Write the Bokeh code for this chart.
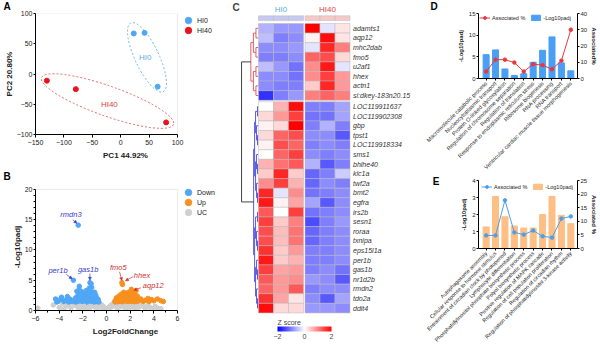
import numpy as np
from math import pi
from bokeh.plotting import figure
from bokeh.layouts import row, column
from bokeh.models import (Range1d, LinearAxis, FixedTicker, Legend, LegendItem, Label,
                          ColumnDataSource, LinearColorMapper, ColorBar, Arrow, NormalHead, BoxAnnotation)
from bokeh.embed import file_html
from bokeh.resources import INLINE
from bokeh.core.properties import value

FONT = "Liberation Sans"

# ---------------- Panel A data (PCA) ----------------
pca_hi0_x = [23, 42, 65]
pca_hi0_y = [67, 68, -21]
pca_hi40_x = [-130, -79, 80]
pca_hi40_y = [-11, -25, -80]

# ---------------- Panel B data (volcano) ----------------
down_pts = [(-2.39, 14.1), (-2.8, 5.0), (-1.4, 4.6), (-1.3, 4.4), (-1.45, 3.7), (-1.25, 3.8), (-2.3, 4.0),
            (-4.3, 1.9), (-4.1, 1.5), (-3.8, 2.2), (-3.5, 1.7), (-3.3, 2.3), (-3.0, 1.6), (-4.2, 1.4), (-3.9, 1.8),
            (-3.6, 1.5), (-3.1, 1.9), (-2.6, 2.1), (-2.5, 3.2), (-2.4, 2.6), (-2.3, 3.4), (-2.2, 2.8), (-2.1, 3.1),
            (-2.0, 2.4), (-1.9, 3.0), (-1.8, 2.7), (-1.7, 3.3), (-1.6, 2.5), (-1.5, 2.9), (-1.4, 2.6), (-1.3, 3.1),
            (-1.2, 2.3), (-1.1, 2.8), (-1.0, 2.2), (-0.9, 2.5), (-0.8, 2.0), (-0.7, 1.8), (-2.55, 1.7), (-2.35, 2.0),
            (-2.15, 1.9), (-1.95, 1.8), (-1.75, 2.1), (-1.55, 1.9), (-1.35, 2.0), (-1.15, 1.7), (-0.95, 1.6),
            (-0.75, 1.5), (-2.45, 1.5), (-2.25, 1.6), (-2.05, 1.5), (-1.85, 1.7), (-1.65, 1.4), (-1.45, 1.6),
            (-1.25, 1.5), (-1.05, 1.4), (-0.85, 1.5), (-0.65, 1.4), (-2.0, 2.3), (-1.8, 2.4), (-1.6, 2.2),
            (-2.2, 2.1), (-1.7, 1.8), (-1.9, 1.6), (-1.1, 2.6), (-0.9, 1.9), (-2.6, 1.4), (-1.0, 3.0), (-3.2, 1.4),
            (-2.9, 1.5), (-2.7, 1.8)]
up_pts = [(1.3, 4.6), (1.35, 4.3), (2.1, 3.5), (2.5, 3.3), (2.3, 3.1), (0.7, 1.5), (0.8, 1.8), (0.9, 1.6),
          (1.0, 2.0), (1.1, 1.7), (1.2, 2.3), (1.3, 1.9), (1.4, 2.6), (1.5, 2.1), (1.6, 2.8), (1.7, 2.2),
          (1.8, 2.5), (1.9, 1.9), (2.0, 2.7), (2.1, 2.3), (2.2, 2.9), (2.3, 2.0), (2.4, 2.6), (2.5, 1.8),
          (2.6, 2.4), (2.7, 1.6), (0.75, 1.4), (0.95, 1.45), (1.15, 1.5), (1.35, 1.45), (1.55, 1.6), (1.75, 1.5),
          (1.95, 1.55), (2.15, 1.5), (2.35, 1.45), (2.55, 1.5), (0.85, 2.1), (1.05, 2.4), (1.25, 2.7), (1.45, 3.0),
          (1.65, 2.4), (1.85, 3.0), (2.05, 2.0), (2.25, 2.5), (2.45, 2.2), (1.6, 1.8), (1.2, 1.6), (2.0, 1.7),
          (3.3, 1.7), (3.5, 2.0), (3.8, 1.8), (4.0, 1.6), (4.3, 1.9), (4.6, 1.6), (4.8, 1.5), (3.1, 1.5),
          (2.9, 1.9), (3.6, 1.5)]
uc_pts = [(-5.8, 0.4), (-4.5, 0.9), (-4.0, 0.5), (-3.7, 1.1), (-3.4, 0.7), (-3.2, 1.0), (-3.0, 0.4), (-2.8, 1.2),
          (-2.6, 0.8), (-2.5, 1.1), (-2.4, 0.5), (-2.2, 1.2), (-2.1, 0.9), (-2.0, 0.6), (-1.9, 1.2), (-1.8, 1.0),
          (-1.7, 0.7), (-1.6, 1.2), (-1.5, 0.9), (-1.4, 0.5), (-1.3, 1.1), (-1.2, 0.8), (-1.1, 1.2), (-1.0, 0.6),
          (-0.9, 1.0), (-0.8, 0.8), (-0.7, 1.2), (-0.6, 0.9), (-0.5, 0.7), (-0.45, 1.0), (-0.4, 0.5), (-0.35, 0.8),
          (-0.3, 0.4), (-0.25, 0.6), (-0.2, 0.3), (-0.15, 0.4), (-0.1, 0.15), (-0.05, 0.05), (0.05, 0.05),
          (0.1, 0.15), (0.15, 0.35), (0.2, 0.3), (0.25, 0.6), (0.3, 0.45), (0.35, 0.8), (0.4, 0.6), (0.45, 1.0),
          (0.5, 0.7), (0.6, 1.1), (0.7, 0.9), (0.8, 1.2), (0.9, 0.7), (1.0, 1.0), (1.1, 1.2), (1.2, 0.6),
          (1.3, 0.9), (1.4, 1.2), (1.5, 0.8), (1.6, 1.1), (1.7, 0.5), (1.8, 1.2), (1.9, 0.9), (2.0, 1.1),
          (2.1, 0.6), (2.2, 1.2), (2.3, 0.8), (2.5, 1.0), (2.7, 0.5), (2.9, 1.1), (3.1, 0.7), (3.3, 0.3),
          (3.5, 0.9), (3.7, 0.5), (3.9, 0.2), (4.1, 0.7), (4.3, 0.4), (4.6, 0.3), (-0.8, 0.3), (-1.5, 0.2),
          (-2.3, 0.2), (0.9, 0.3), (1.6, 0.2), (2.4, 0.3), (-1.2, 1.3), (1.2, 1.3), (-0.65, 1.3), (0.65, 1.3),
          (-3.6, 0.2), (-1.9, 0.4), (1.9, 0.4)]
volc_labels = ["rmdn3", "per1b", "gas1b", "fmo5", "hhex", "aqp12"]
volc_label_x = [-3.0, -4.1, -1.55, 1.0, 3.0, 3.95]
volc_label_y = [15.8, 6.65, 6.8, 7.1, 5.8, 4.1]
volc_label_kind = ["down", "down", "down", "up", "up", "up"]
volc_arrow_from = [(-2.85, 15.0), (-3.4, 6.0), (-1.4, 6.1), (1.1, 6.4), (2.25, 5.6), (2.9, 3.75)]
volc_arrow_to = [(-2.5, 14.4), (-2.9, 5.2), (-1.4, 5.0), (1.3, 4.95), (1.6, 4.9), (2.3, 3.35)]

# ---------------- Panel C data (heatmap, z scores) ----------------
genes = ["adamts1", "aqp12", "mhc2dab", "fmo5", "u2af1", "hhex", "actn1", "si:dkey-183n20.15",
         "LOC119911637", "LOC119902308", "gbp", "tpst1", "LOC119918334", "sms1", "bhlhe40", "klc1a",
         "twf2a", "bmt2", "egfra", "irs2b", "sesn1", "roraa", "txnipa", "eps15l1a", "per1b", "gas1b",
         "nr1d2b", "rmdn2", "tdo2a", "ddit4"]
z_hi0 = [[-0.6, -0.8, -0.8], [-0.5, -1.0, -0.9], [-0.9, -0.9, -0.8], [-1.0, -1.0, -0.9],
         [-0.5, -0.8, -1.1], [-0.9, -0.9, -1.1], [-0.9, -1.0, -1.0], [-1.6, -1.0, -0.8],
         [0.0, 0.6, 1.9], [0.3, 0.8, 1.5], [0.1, 0.3, 2.0], [0.3, 1.2, 1.4], [0.1, 1.4, 1.2],
         [0.0, 1.2, 1.5], [0.6, 1.1, 1.3], [0.4, 1.7, 0.4], [0.9, 1.5, 0.6], [1.7, -0.2, 0.9],
         [1.8, 0.1, 0.7], [1.3, 0.0, 1.5], [1.5, 0.4, 1.0], [1.4, 0.5, 1.1], [1.4, 0.5, 1.1],
         [1.6, 0.4, 0.8], [1.8, 0.4, 0.6], [1.5, 0.7, 0.8], [1.3, 0.8, 0.9], [1.2, 0.8, 1.3],
         [1.6, 0.7, 0.2], [1.9, 0.3, 0.3]]
z_hi40 = [[2.0, -0.2, 0.2], [0.1, 1.9, 0.2], [-0.2, 1.7, 1.0], [1.2, 1.4, 0.3], [0.9, 1.8, -0.2],
          [0.9, 1.5, 0.8], [0.4, 1.7, 0.8], [1.0, 1.2, 1.0], [-1.0, -1.0, -0.7], [-1.1, -1.1, -0.7],
          [-1.0, -0.6, -1.0], [-0.9, -0.9, -1.3], [-1.0, -0.9, -1.0], [-0.9, -1.0, -0.9],
          [-0.6, -1.3, -1.0], [-1.2, -1.0, -0.4], [-1.2, -0.9, -1.0], [-1.1, -1.0, -0.9],
          [-0.7, -1.3, -0.9], [-1.1, -1.0, -0.9], [-1.4, -1.0, -0.8], [-1.2, -1.0, -0.9],
          [-1.2, -1.0, -0.9], [-1.0, -1.0, -0.9], [-1.0, -1.0, -0.9], [-1.0, -0.9, -1.1],
          [-0.8, -0.9, -1.3], [-1.0, -0.9, -0.9], [-0.9, -1.3, -0.7], [-0.8, -0.8, -0.9]]
cluster_sizes = [8, 22]
groups = ["HI0", "HI40"]

# ---------------- Panel D data ----------------
d_terms = ["Macromolecule catabolic process", "Nucleocytoplasmic transport", "Protein O-linked glycosylation",
           "Regulation of chromosome separation", "Regulation of translation",
           "Response to endoplasmic reticulum stress", "Ribosome biogenesis", "RNA processing", "RNA transport",
           "Ventricular cardiac muscle tissue morphogenesis"]
d_padj = [5.5, 6.6, 2.2, 0.7, 1.1, 3.75, 6.5, 9.6, 3.6, 1.76]
d_pct = [4.3, 11.6, 11.6, 9.8, 4.3, 8.8, 8.2, 5.7, 11.0, 30.0]

# ---------------- Panel E data ----------------
e_terms = ["Autophagosome assembly", "Cellular response to hormone stimulus",
           "Entrainment of circadian clock by photoperiod", "Lymphocyte differentiation",
           "Phosphatidylinositol phosphate biosynthetic process", "Polyol biosynthetic process",
           "Positive regulation of MAPK cascade", "Regulation of cell population proliferation",
           "Regulation of circadian rhythm", "Regulation of phosphatidylinositol 3-kinase activity"]
e_padj = [1.27, 3.06, 1.87, 1.32, 1.2, 1.2, 2.0, 3.06, 1.95, 1.46]
e_pct = [4.8, 4.8, 17.7, 5.9, 5.1, 6.6, 4.5, 4.0, 11.0, 11.8]

C_BLUE = "#4fa7f5"
C_RED = "#e8141c"
C_ORANGE = "#f7901e"
C_GRAY = "#cfcfcf"


def make_fig(w, h, xr, yr, ml, mr, mt, mb, axes=True):
    kw = dict(width=w, height=h, x_range=xr, y_range=yr, output_backend="svg", toolbar_location=None,
              min_border_left=ml, min_border_right=mr, min_border_top=mt, min_border_bottom=mb)
    if not axes:
        kw.update(x_axis_type=None, y_axis_type=None)
    p = figure(**kw)
    p.grid.visible = False
    p.outline_line_color = None
    return p


def style_axis(ax, fs="7px", lfs="8px", tick=3, std=2, lstd=3):
    ax.axis_line_color = "black"
    ax.axis_line_width = 1
    ax.major_tick_line_color = "black"
    ax.major_tick_out = tick
    ax.major_tick_in = 0
    ax.minor_tick_line_color = None
    ax.major_label_text_font = FONT
    ax.major_label_text_font_size = fs
    ax.major_label_text_color = "#222222"
    ax.major_label_standoff = std
    ax.axis_label_text_font = FONT
    ax.axis_label_text_font_size = lfs
    ax.axis_label_text_font_style = "bold"
    ax.axis_label_text_color = "#222222"
    ax.axis_label_standoff = lstd


def title_letter(p, txt, offset, valign="top"):
    p.title.text = txt
    p.title.align = "left"
    p.title.offset = offset
    p.title.standoff = 0
    p.title.vertical_align = valign
    p.title.text_font = FONT
    p.title.text_font_size = "10px"
    p.title.text_font_style = "bold"
    p.title.text_color = "black"


def dot_legends(p, items, x, y0, step):
    # one legend per entry, so entries can sit closer than their glyph boxes
    for k, it in enumerate(items):
        leg = Legend(items=[it], location=(x, y0 - k * step), glyph_width=16, glyph_height=16,
                     label_height=10, label_width=10, spacing=0, padding=0, margin=0,
                     border_line_color=None, background_fill_alpha=0, label_text_font=FONT,
                     label_text_font_size="7px", label_standoff=1, label_text_color="#222222")
        p.add_layout(leg)


# ================= Panel A =================
A_XR = (-150, 100)
A_YR = (-100, 100)
pA = make_fig(215, 170, Range1d(A_XR[0], A_XR[1] + 38 * (A_XR[1] - A_XR[0]) / 142), Range1d(*A_YR),
              35, 0, 11, 36)
style_axis(pA.xaxis[0])
style_axis(pA.yaxis[0], tick=2, std=1, lstd=0)
pA.xaxis.bounds = A_XR
pA.xaxis.ticker = FixedTicker(ticks=[-150, -100, -50, 0, 50, 100])
pA.yaxis.ticker = FixedTicker(ticks=[-100, -50, 0, 50, 100])
pA.xaxis.axis_label = "PC1 44.92%"
pA.yaxis.axis_label = "PC2 20.80%"
pA.add_layout(BoxAnnotation(left=A_XR[0], right=A_XR[1], bottom=A_YR[0], top=A_YR[1], fill_alpha=0,
                            line_color="#bdbdbd", line_width=1, level="underlay"))
pA.ellipse(x=[46.3], y=[27.6], width=[24], height=[76], angle=0.44, width_units="screen",
           height_units="screen", fill_color=None, line_color="#5fb0e6", line_dash="2 2", line_width=0.9)
pA.ellipse(x=[-23.2], y=[-44.7], width=[140], height=[30], angle=-0.34, width_units="screen",
           height_units="screen", fill_color=None, line_color="#e05a5a", line_dash="2 2", line_width=0.9)
rA0 = pA.scatter(pca_hi0_x, pca_hi0_y, size=5, color=C_BLUE)
rA1 = pA.scatter(pca_hi40_x, pca_hi40_y, size=5, color=C_RED)
pA.text(x=[43, -20], y=[28, -51], text=["HI0", "HI40"], text_color=["#5aaee0", "#d94040"],
        text_font=value(FONT), text_font_size="8px", text_align="center", text_baseline="middle")
dot_legends(pA, [LegendItem(label="HI0", renderers=[rA0]), LegendItem(label="HI40", renderers=[rA1])],
            145, 106, 10)
title_letter(pA, "A", -32)

# ================= Panel B =================
B_XR = (-6, 6)
B_YR = (0, 20)
pB = make_fig(215, 184, Range1d(B_XR[0], B_XR[1] + 38 * (B_XR[1] - B_XR[0]) / 142),
              Range1d(B_YR[0], B_YR[1] + 6 * (B_YR[1] - B_YR[0]) / 123), 35, 0, 11, 44)
style_axis(pB.xaxis[0])
style_axis(pB.yaxis[0], tick=2, std=1, lstd=0)
pB.xaxis.bounds = B_XR
pB.yaxis.bounds = B_YR
pB.xaxis.ticker = FixedTicker(ticks=[-6, -4, -2, 0, 2, 4, 6], minor_ticks=[-5, -3, -1, 1, 3, 5])
pB.yaxis.ticker = FixedTicker(ticks=[0, 5, 10, 15, 20], minor_ticks=[i for i in range(21) if i % 5])
for ax in (pB.xaxis[0], pB.yaxis[0]):
    ax.minor_tick_line_color = "black"
    ax.minor_tick_out = 2
    ax.minor_tick_in = 0
pB.xaxis.axis_label = "Log2FoldChange"
pB.yaxis.axis_label = "-Log10padj"
pB.add_layout(BoxAnnotation(left=B_XR[0], right=B_XR[1], bottom=B_YR[0], top=B_YR[1], fill_alpha=0,
                            line_color="#bdbdbd", line_width=1, level="underlay"))
rBu = pB.scatter([p[0] for p in uc_pts], [p[1] for p in uc_pts], size=4.5, color=C_GRAY)
rBd = pB.scatter([p[0] for p in down_pts], [p[1] for p in down_pts], size=4.5, color=C_BLUE)
rBo = pB.scatter([p[0] for p in up_pts], [p[1] for p in up_pts], size=4.5, color=C_ORANGE)
lab_col = {"down": "#3a3ac8", "up": "#d03030"}
pB.text(x=volc_label_x, y=volc_label_y, text=volc_labels, text_color=[lab_col[k] for k in volc_label_kind],
        text_font=value(FONT), text_font_style="italic", text_font_size="7.5px", text_align="center",
        text_baseline="middle")
for (x0, y0), (x1, y1), k in zip(volc_arrow_from, volc_arrow_to, volc_label_kind):
    c = lab_col[k]
    pB.add_layout(Arrow(end=NormalHead(size=3, fill_color=c, line_color=c, line_width=0.5),
                        x_start=x0, y_start=y0, x_end=x1, y_end=y1, line_color=c, line_width=0.7))
dot_legends(pB, [LegendItem(label="Down", renderers=[rBd]), LegendItem(label="Up", renderers=[rBo]),
                 LegendItem(label="UC", renderers=[rBu])], 145, 110, 10)
title_letter(pB, "B", -32)

# ================= Panel C =================
ROW_GAP = 0.15
COL_GAP = 0.1
pC = make_fig(197, 354, Range1d(-43 / 15, (197 - 43) / 15), Range1d((354 - 23) / 9.6, -23 / 9.6),
              0, 0, 0, 0, axes=False)


def row_y(j):
    return j + 0.5 + (ROW_GAP if j >= cluster_sizes[0] else 0)


def col_x(i):
    return i + 0.5 + (COL_GAP if i >= 3 else 0)


hx, hy, hz = [], [], []
for j, g in enumerate(genes):
    for i, zval in enumerate(z_hi0[j] + z_hi40[j]):
        hx.append(col_x(i))
        hy.append(row_y(j))
        hz.append(zval)

t = np.linspace(0, 1, 128)
blue_half = ["#%02x%02xff" % (int(255 * s), int(255 * s)) for s in t]
red_half = ["#ff%02x%02x" % (int(255 * (1 - s)), int(255 * (1 - s))) for s in t[1:]]
palette = blue_half + red_half
mapper = LinearColorMapper(palette=palette, low=-2, high=2)
pC.rect(x="x", y="y", width=1, height=1, fill_color={"field": "z", "transform": mapper},
        line_color="#b8b8b8", line_width=0.5, source=ColumnDataSource(dict(x=hx, y=hy, z=hz)))
pC.rect(x=[col_x(i) for i in range(6)], y=[-0.55] * 6, width=1, height=0.5,
        fill_color=["#c8c8f4"] * 3 + ["#f7c8c8"] * 3, line_color="#b8b8b8", line_width=0.5)
pC.text(x=[col_x(1), col_x(4)], y=[-1.45, -1.45], text=groups, text_color=["#5aaee0", "#d94040"],
        text_font=value(FONT), text_font_size="8px", text_align="center", text_baseline="middle")
pC.text(x=[6 + COL_GAP + 0.2] * len(genes), y=[row_y(j) for j in range(len(genes))], text=genes,
        text_font=value(FONT), text_font_style="italic", text_font_size="7px", text_color="#333333",
        text_align="left", text_baseline="middle")


def dendro(rows, step):
    xs, ys = [], []

    def rec(rs):
        if len(rs) == 1:
            return -0.03, row_y(rs[0]), 0
        m = len(rs) // 2
        x1, y1, d1 = rec(rs[:m])
        x2, y2, d2 = rec(rs[m:])
        d = max(d1, d2) + 1
        xn = -d * step
        xs.append([x1, xn, xn, x2])
        ys.append([y1, y1, y2, y2])
        return xn, (y1 + y2) / 2, d

    root = rec(rows)
    return xs, ys, root


rxs, rys, rroot = dendro(list(range(cluster_sizes[0])), 0.17)
bxs, bys, broot = dendro(list(range(cluster_sizes[0], sum(cluster_sizes))), 0.065)
pC.multi_line(rxs, rys, line_color="#e06060", line_width=1)
pC.multi_line(bxs, bys, line_color="#5a5ae0", line_width=1)
XM = -1.13
pC.line([rroot[0], XM, XM, broot[0]], [rroot[1], rroot[1], broot[1], broot[1]], line_color="#444444",
        line_width=1)
cb = ColorBar(color_mapper=mapper, orientation="horizontal", width=54, height=5, location=(62, 13),
              ticker=FixedTicker(ticks=[-2, 0, 2]), title="Z score", title_text_font=FONT,
              title_text_font_size="7px", title_text_font_style="normal", title_standoff=2,
              major_label_text_font=FONT, major_label_text_font_size="7px", major_tick_line_color=None,
              padding=0, margin=0, bar_line_color=None, background_fill_alpha=0, label_standoff=2)
pC.add_layout(cb)
pC.add_layout(Label(x=17, y=353, x_units="screen", y_units="screen", text="C", text_font=FONT,
                    text_font_size="10px", text_font_style="bold", text_align="left", text_baseline="top"))


# ================= Panels D & E =================
def go_panel(h, mt, mb, padj, pct, terms, ymax, ymax2, lticks, rticks, bar_col, line_col, rlabel,
             letter, leg_margin, fs_terms):
    idx = list(range(len(terms)))
    p = make_fig(188, h, Range1d(-0.81, 9.71), Range1d(0, ymax), 66, 18, mt, mb)
    p.extra_y_ranges = {"pct": Range1d(0, ymax2)}
    style_axis(p.xaxis[0], fs=fs_terms, tick=2, std=2)
    style_axis(p.yaxis[0], fs="6px", lfs="6px", tick=2, std=1, lstd=2)
    p.xaxis.ticker = FixedTicker(ticks=idx)
    p.xaxis.major_label_overrides = {i: s for i, s in enumerate(terms)}
    p.xaxis.major_label_orientation = pi / 4
    p.yaxis.ticker = FixedTicker(ticks=lticks)
    p.yaxis.axis_label = "-Log10padj"
    ax_r = LinearAxis(y_range_name="pct", axis_label=rlabel, ticker=FixedTicker(ticks=rticks))
    style_axis(ax_r, fs="6px", lfs="6px", tick=2, std=1, lstd=1)
    p.add_layout(ax_r, "right")
    rb = p.vbar(x=idx, top=padj, width=0.64, color=bar_col)
    rl = p.line(idx, pct, y_range_name="pct", color=line_col, line_width=1)
    rm = p.scatter(idx, pct, y_range_name="pct", size=3.5, color=line_col)
    leg = Legend(items=[LegendItem(label="Associated %", renderers=[rl, rm]),
                        LegendItem(label="-Log10padj", renderers=[rb])],
                 orientation="horizontal", location="top_left", glyph_width=11, glyph_height=7,
                 label_height=7, label_width=10, spacing=5, padding=0, margin=leg_margin,
                 border_line_color=None, background_fill_alpha=0, label_text_font=FONT,
                 label_text_font_size="5.5px", label_standoff=2, label_text_color="#222222")
    p.add_layout(leg)
    if letter == "D":
        title_letter(p, letter, -48, "top")
    else:
        # panel letter carried by an outer left axis whose single tick sits at the frame top
        la = LinearAxis(ticker=FixedTicker(ticks=[ymax]), major_label_overrides={ymax: letter})
        la.axis_line_color = None
        la.major_tick_line_color = None
        la.minor_tick_line_color = None
        la.major_label_standoff = 13
        la.major_label_text_font = FONT
        la.major_label_text_font_size = "10px"
        la.major_label_text_font_style = "bold"
        la.major_label_text_color = "black"
        p.add_layout(la, "left")
    return p


pD = go_panel(175, 11, 96, d_padj, d_pct, d_terms, 15, 40, [0, 5, 10, 15], [0, 10, 20, 30, 40],
              "#4a9ff5", "#e8383d", "Associated%", "D", 1, "5.6px")
pE = go_panel(179, 5, 106, e_padj, e_pct, e_terms, 4, 25, [0, 1, 2, 3, 4], [0, 5, 10, 15, 20, 25],
              "#fdbf85", "#4d9fe8", "Associated %", "E", 3, "5.4px")

layout = row(column(pA, pB), pC, column(pD, pE))
open("out.html", "w").write(file_html(layout, INLINE))
